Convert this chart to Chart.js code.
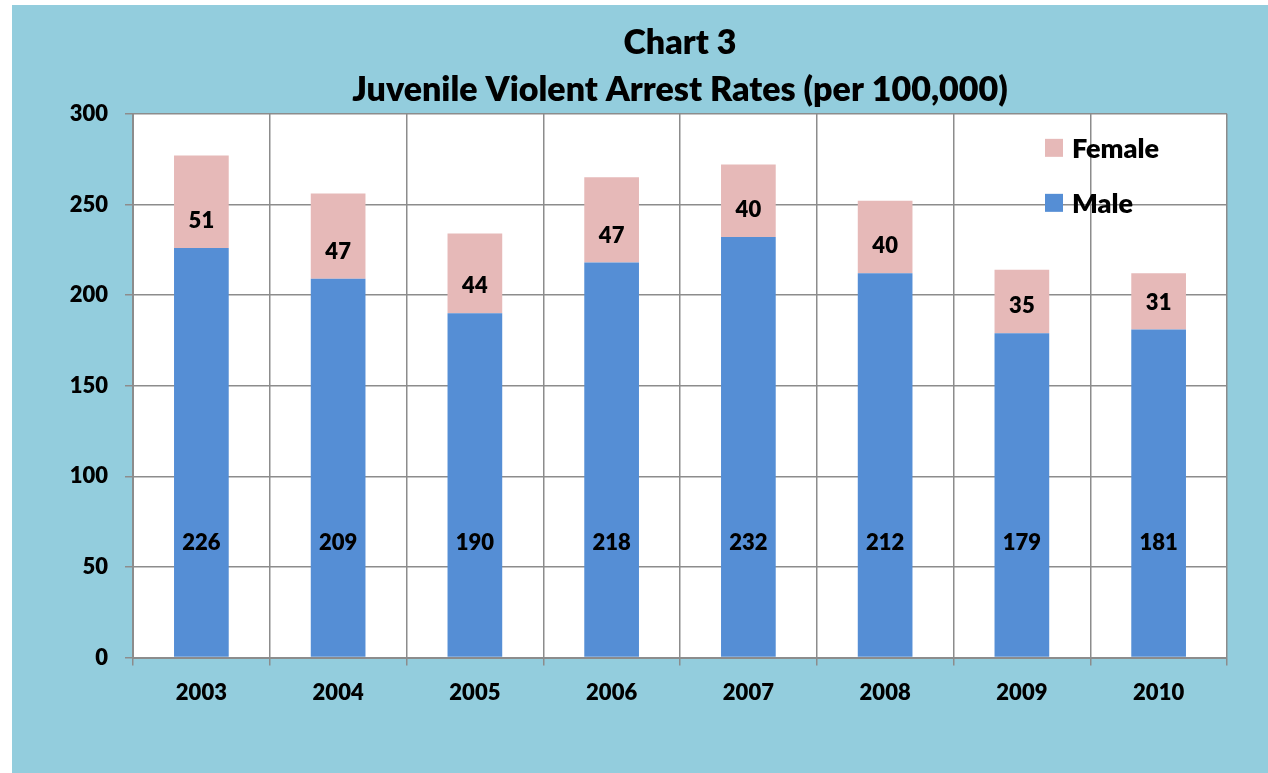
<!DOCTYPE html>
<html>

    <head>
        <script src="https://cdn.jsdelivr.net/npm/chart.js@4.4.1/dist/chart.umd.min.js"></script>

        <style>
            body { margin: 0; background: #ffffff; }
            .chartBox {
                position: absolute;
                left: 12px;
                top: 5px;
                width: 1256px;
                height: 768px;
                background: #93cddd;
            }
        </style>

    </head>

    <body>

    <div class = "chartBox">
        <canvas id="myChart"></canvas>
    </div>

    <script>

        //chart values
        const years = ['2003', '2004', '2005', '2006', '2007', '2008', '2009', '2010'];
        const maleRates = [226, 209, 190, 218, 232, 212, 179, 181];
        const femaleRates = [51, 47, 44, 47, 40, 40, 35, 31];
        const yTicks = [0, 50, 100, 150, 200, 250, 300];

        const titleLines = ['Chart 3', 'Juvenile Violent Arrest Rates (per 100,000)'];

        //Global Options
        Chart.defaults.font.family = "Lato, 'Open Sans', sans-serif";
        Chart.defaults.font.weight = 800;
        Chart.defaults.color = '#000000';

        const gridColor = '#8c8c8c';

        //white plot area
        const plotBackground = {
            id: 'plotBackground',
            beforeDraw(chart) {
                const a = chart.chartArea;
                const ctx = chart.ctx;
                ctx.save();
                ctx.fillStyle = '#ffffff';
                ctx.fillRect(a.left, a.top, a.right - a.left, a.bottom - a.top);
                ctx.restore();
            }
        };

        //value labels, lifted from the base of each segment
        const barLabels = {
            id: 'barLabels',
            afterDatasetsDraw(chart, args, opts) {
                const ctx = chart.ctx;
                ctx.save();
                ctx.font = '800 22px Lato, sans-serif';
                ctx.fillStyle = '#000000';
                ctx.textAlign = 'center';
                ctx.textBaseline = 'middle';
                chart.data.datasets.forEach(function(ds, i) {
                    const meta = chart.getDatasetMeta(i);
                    meta.data.forEach(function(bar, j) {
                        ctx.fillText(String(ds.data[j]), bar.x, bar.base - opts.lift[i]);
                    });
                });
                ctx.restore();
            }
        };

        //legend drawn inside the plot, top right
        const insideLegend = {
            id: 'insideLegend',
            afterDraw(chart) {
                const a = chart.chartArea;
                const ctx = chart.ctx;
                const items = chart.data.datasets.slice().reverse();
                ctx.save();
                ctx.font = '800 27px Lato, sans-serif';
                ctx.textBaseline = 'middle';
                ctx.textAlign = 'left';
                items.forEach(function(ds, i) {
                    const x = a.right - 182;
                    const y = a.top + 34 + i * 55;
                    ctx.fillStyle = ds.backgroundColor;
                    ctx.fillRect(x, y - 9, 18, 18);
                    ctx.fillStyle = '#000000';
                    ctx.fillText(ds.label, x + 27, y + 1);
                });
                ctx.restore();
            }
        };

        //setup for data
        const data = {
            labels: years,
            datasets: [{
                label: 'Male',
                data: maleRates,
                backgroundColor: '#558ed5',
                barPercentage: 0.4,
                categoryPercentage: 1
            }, {
                label: 'Female',
                data: femaleRates,
                backgroundColor: '#e6b9b8',
                barPercentage: 0.4,
                categoryPercentage: 1
            }]
        };

        //config
        const config = {
            type: 'bar',
            data,
            plugins: [plotBackground, barLabels, insideLegend],
            options: {
                responsive: true,
                maintainAspectRatio: false,
                animation: false,
                layout: {
                    padding: { left: 58, right: 41, top: 0, bottom: 53 }
                },
                plugins: {
                    title: {
                        display: true,
                        text: titleLines,
                        fullSize: false,
                        color: '#000000',
                        font: { size: 34, weight: 800, lineHeight: 1.38 },
                        padding: { top: 15, bottom: 0 }
                    },
                    legend: { display: false },
                    tooltip: { enabled: false },
                    barLabels: { lift: [114, 27] }
                },
                scales: {
                    x: {
                        stacked: true,
                        grid: {
                            color: gridColor,
                            lineWidth: 1.5,
                            tickLength: 8,
                            offset: true
                        },
                        border: { color: gridColor, width: 2 },
                        ticks: {
                            padding: 14,
                            font: { size: 22, weight: 800 },
                            color: '#000000'
                        }
                    },
                    y: {
                        stacked: true,
                        min: 0,
                        max: 300,
                        afterFit(scale) { scale.width = 63; },
                        afterBuildTicks(scale) {
                            scale.ticks = yTicks.map(function(v) { return { value: v }; });
                        },
                        grid: {
                            color: gridColor,
                            lineWidth: 1.5,
                            tickLength: 8
                        },
                        border: { color: gridColor, width: 2 },
                        ticks: {
                            padding: 17,
                            font: { size: 22, weight: 800 },
                            color: '#000000'
                        }
                    }
                }
            }
        };

        const myChart = new Chart(document.getElementById('myChart'), config);

    </script>

    </body>
    </html>
